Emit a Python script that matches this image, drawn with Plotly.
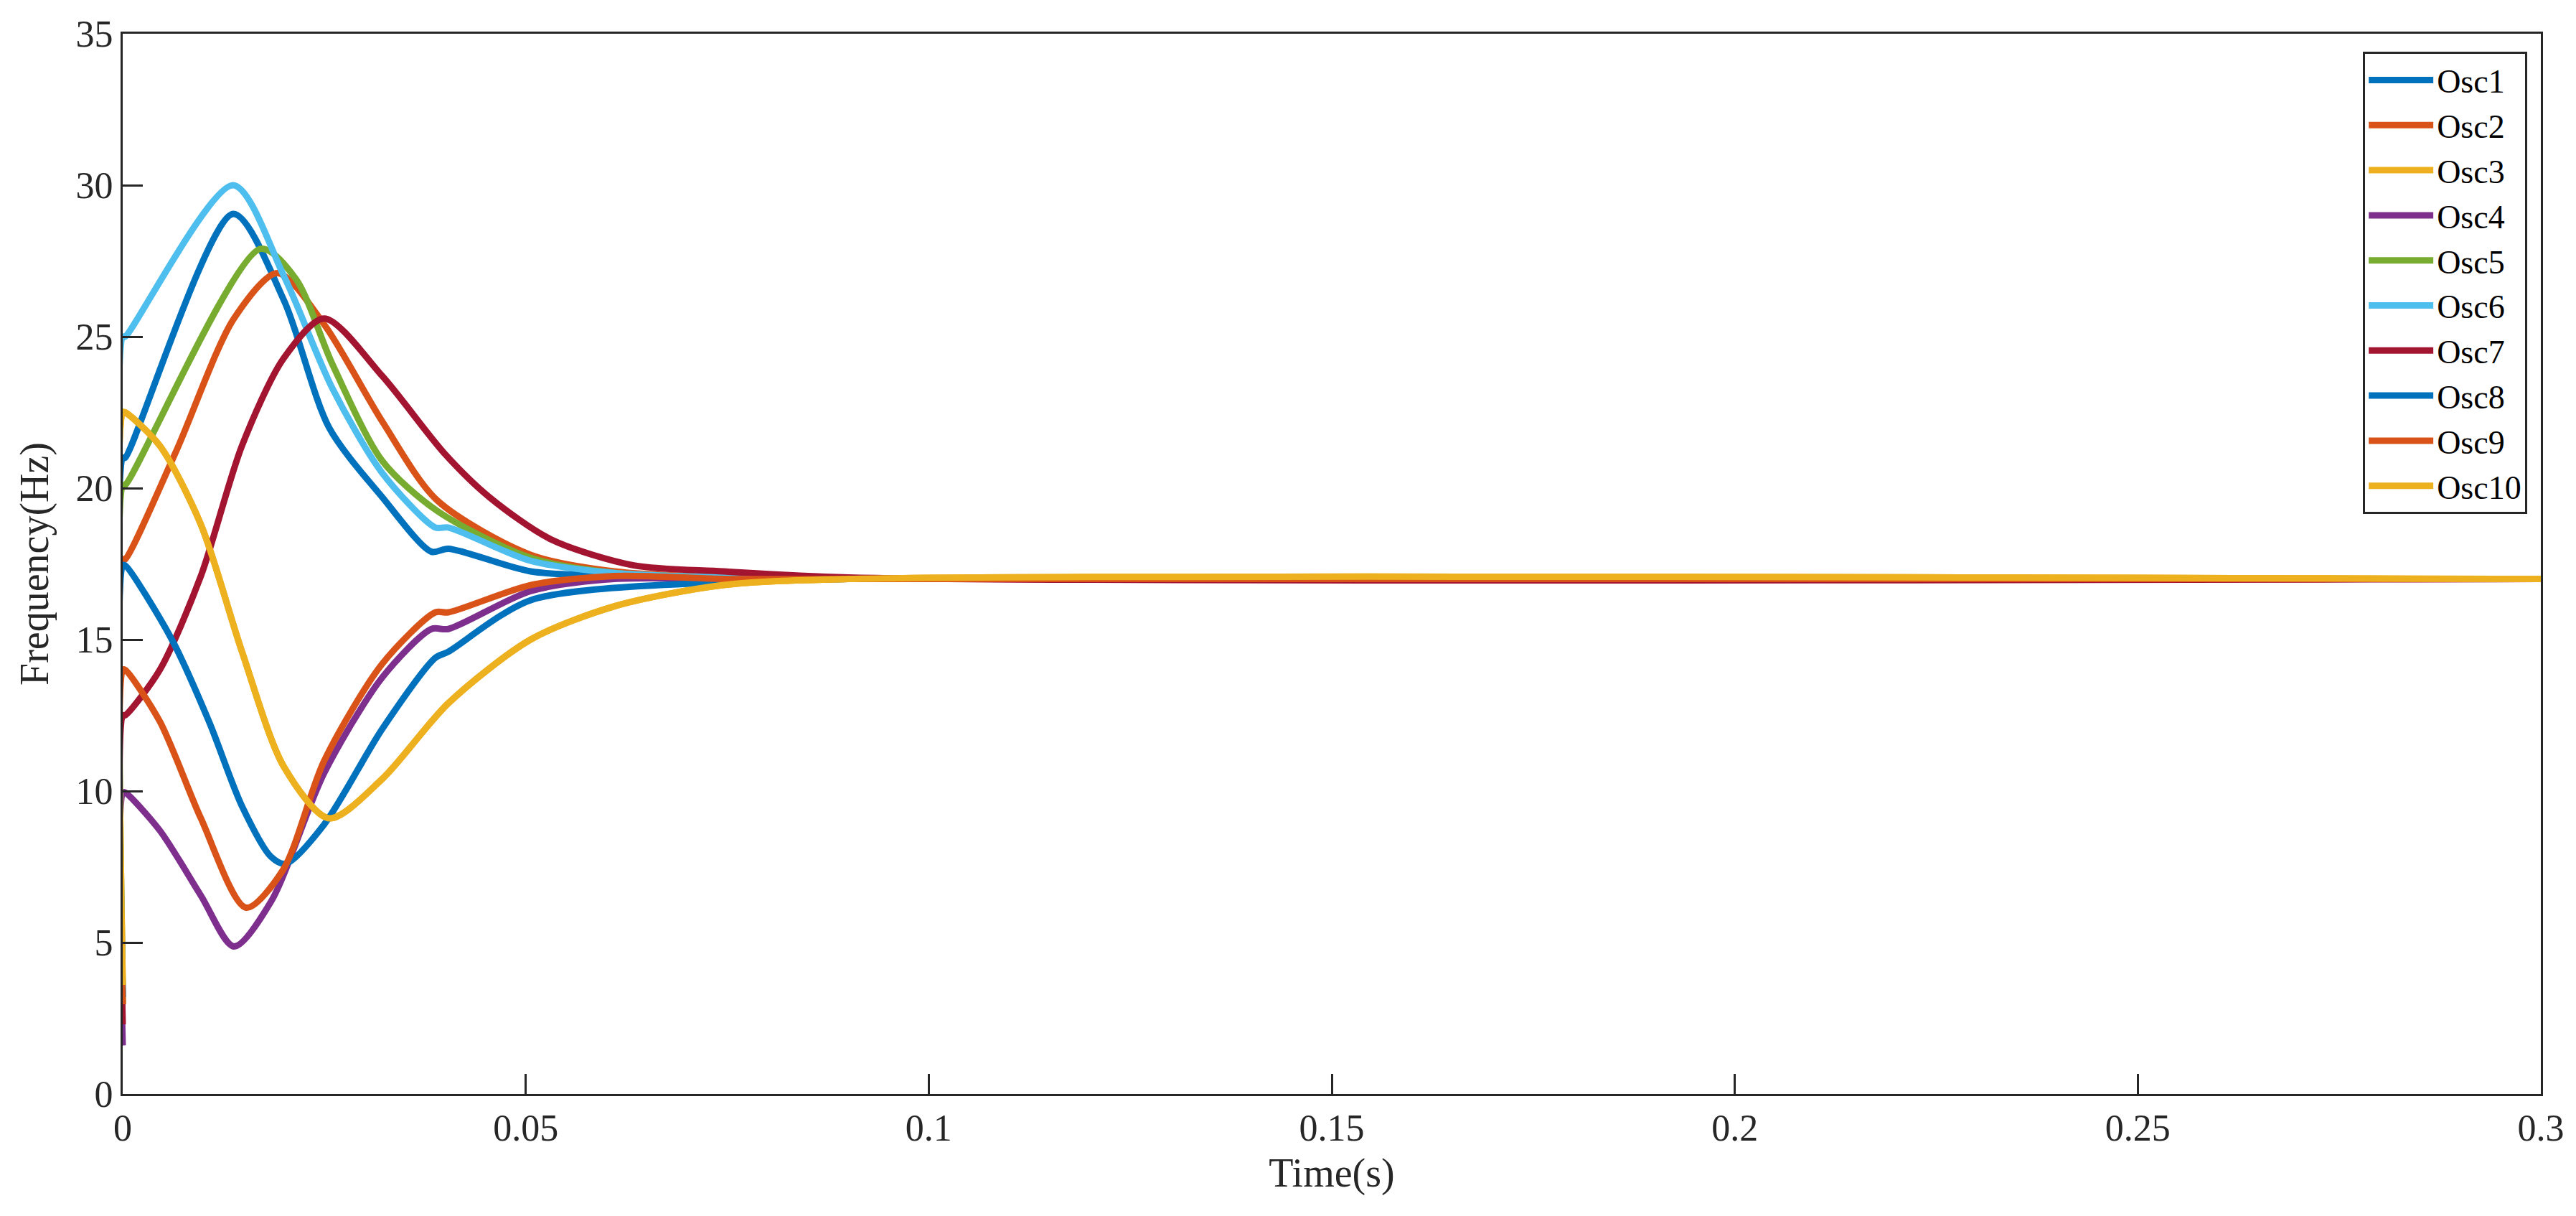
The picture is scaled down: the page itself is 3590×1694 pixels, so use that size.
import plotly.graph_objects as go

names = ["Osc1","Osc2","Osc3","Osc4","Osc5","Osc6","Osc7","Osc8","Osc9","Osc10"]
colors = ["#0072BD","#D95319","#EDB120","#7E2F8E","#77AC30","#4DBEEE","#A2142F","#0072BD","#D95319","#EDB120"]

osc1_t = [0,0,0.0003,0.0137,0.020,0.0256,0.0322,0.0383,0.0404,0.0506,0.061,0.075,0.09,0.3]
osc1_f = [3.2,21.0,21.0,29.05,26.2,22.0,19.7,17.9,18.0,17.25,17.1,17.02,17.0,17.0]
osc2_t = [0,0,0.0003,0.0066,0.0138,0.0192,0.025,0.0322,0.039,0.0506,0.061,0.075,0.09,0.3]
osc2_f = [2.96,17.65,17.65,21.2,25.6,27.1,25.4,22.2,19.6,17.8,17.25,17.05,17.0,17.0]
osc3_t = [0,0,0.0003,0.0046,0.0097,0.0148,0.020,0.0256,0.0322,0.0404,0.0506,0.061,0.0745,0.09,0.3]
osc3_f = [3.6,22.5,22.5,21.4,18.8,14.6,10.8,9.1,10.4,12.9,15.0,16.1,16.8,17.0,17.0]
osc4_t = [0,0,0.0003,0.0046,0.0097,0.0138,0.0184,0.025,0.0322,0.0383,0.0404,0.0506,0.061,0.075,0.09,0.3]
osc4_f = [1.6,9.95,9.95,8.7,6.55,4.87,6.35,10.6,13.75,15.35,15.35,16.6,17.0,17.0,17.0,17.0]
osc5_t = [0,0,0.0003,0.0171,0.0215,0.026,0.0322,0.039,0.0506,0.061,0.075,0.09,0.3]
osc5_f = [3.0,20.1,20.1,27.9,26.9,24.1,20.9,19.25,17.7,17.2,17.05,17.0,17.0]
osc6_t = [0,0,0.0003,0.0137,0.020,0.026,0.0322,0.0388,0.0404,0.0506,0.061,0.075,0.09,0.3]
osc6_f = [3.2,25.0,25.0,30.0,27.0,23.3,20.5,18.7,18.7,17.6,17.2,17.05,17.0,17.0]
osc7_t = [0,0,0.0003,0.0046,0.0097,0.0148,0.020,0.025,0.0322,0.0399,0.0455,0.0532,0.0634,0.0745,0.09,0.3]
osc7_f = [2.3,12.5,12.5,14.0,17.1,21.4,24.3,25.6,23.7,21.15,19.7,18.3,17.45,17.25,17.05,17.0]
osc8_t = [0,0,0.0003,0.0061,0.0107,0.0148,0.0184,0.0202,0.025,0.0322,0.0388,0.0404,0.0506,0.0745,0.09,0.3]
osc8_f = [3.2,17.45,17.45,15.0,12.3,9.5,7.83,7.6,8.9,12.05,14.4,14.6,16.3,16.9,17.0,17.0]
osc9_t = [0,0,0.0003,0.0046,0.0097,0.0153,0.0199,0.025,0.0322,0.0388,0.0404,0.0506,0.061,0.075,0.09,0.3]
osc9_f = [2.96,14.0,14.0,12.3,9.1,6.15,7.4,11.0,14.2,15.9,15.9,16.8,17.1,17.0,17.0,17.0]
osc10_t = osc3_t
osc10_f = osc3_f

series_t = [osc1_t,osc2_t,osc3_t,osc4_t,osc5_t,osc6_t,osc7_t,osc8_t,osc9_t,osc10_t]
series_f = [osc1_f,osc2_f,osc3_f,osc4_f,osc5_f,osc6_f,osc7_f,osc8_f,osc9_f,osc10_f]

x_ticks = [0,0.05,0.1,0.15,0.2,0.25,0.3]
x_labels = ["0","0.05","0.1","0.15","0.2","0.25","0.3"]
y_ticks = [0,5,10,15,20,25,30,35]

fig = go.Figure()
for n,c,t,f in zip(names,colors,series_t,series_f):
    fig.add_trace(go.Scatter(x=t,y=f,name=n,mode="lines",
                             line=dict(color=c,width=9,shape="spline",smoothing=0.8)))

font = "Liberation Serif, Times New Roman, serif"
axis_common = dict(showgrid=False,zeroline=False,showline=True,linecolor="#262626",linewidth=3,
                   mirror=True,ticks="inside",ticklen=28,tickwidth=3,tickcolor="#262626",
                   tickfont=dict(family=font,size=52,color="#262626"))
fig.update_xaxes(range=[0,0.3],tickvals=x_ticks,ticktext=x_labels,
                 title=dict(text="Time(s)",font=dict(family=font,size=56,color="#262626"),standoff=15),**axis_common)
fig.update_yaxes(range=[0,35],tickvals=y_ticks,
                 title=dict(text="Frequency(Hz)",font=dict(family=font,size=56,color="#262626"),standoff=20),**axis_common)
fig.update_layout(width=3590,height=1694,plot_bgcolor="white",paper_bgcolor="white",
                  margin=dict(l=163,r=57,t=39,b=178),
                  legend=dict(x=0.9944,y=0.983,xanchor="right",yanchor="top",
                              bgcolor="white",bordercolor="#262626",borderwidth=3,
                              font=dict(family=font,size=46,color="black"),
                              tracegroupgap=0,itemwidth=90))
fig.write_html("out.html")
